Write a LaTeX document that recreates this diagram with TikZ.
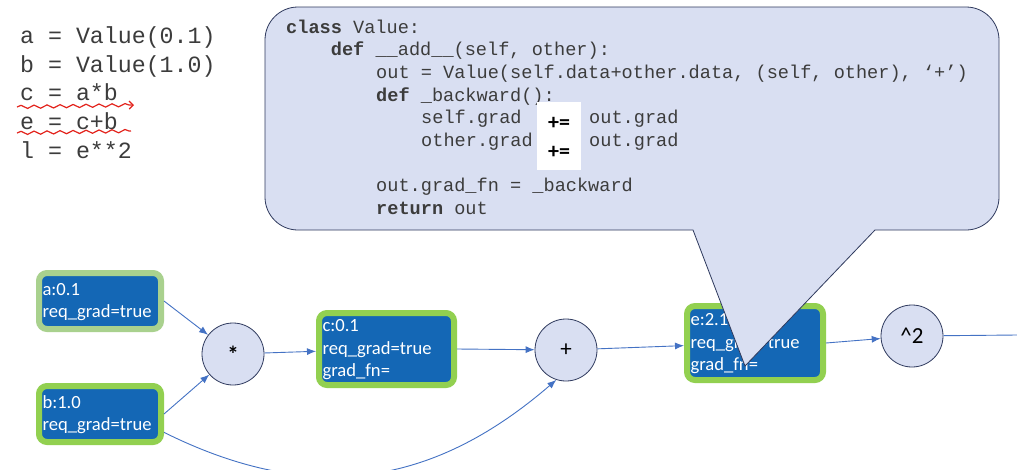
\documentclass[tikz,border=0pt]{standalone}
\usepackage{fontspec}
\setmainfont{Carlito}
\setmonofont{Liberation Mono}
\usetikzlibrary{arrows.meta,decorations.pathmorphing}

\definecolor{valblue}{HTML}{1467B5}
\definecolor{valgreen}{HTML}{92D050}
\definecolor{palegreen}{HTML}{A9D18E}
\definecolor{bubble}{HTML}{D9DFF2}
\definecolor{bubbleedge}{HTML}{2F3A5E}
\definecolor{linkblue}{HTML}{4472C4}
\definecolor{codegray}{HTML}{3C3C3C}
\definecolor{pen}{HTML}{E3231C}

\tikzset{
    valnode/.style={draw=valgreen, line width=6pt, fill=valblue, rounded corners=8pt, text=white, align=left,
        font=\fontsize{18.6}{22.5}\selectfont, inner xsep=3.5pt, inner ysep=0pt},
    opnode/.style={circle, draw=bubbleedge, line width=0.8pt, fill=bubble, minimum size=62pt, inner sep=0pt,
        font=\fontsize{23}{26}\selectfont},
    link/.style={draw=linkblue, line width=0.9pt, -{Latex[length=9pt,width=7pt]}},
    codeline/.style={anchor=base west, inner sep=0pt, text=codegray, font=\ttfamily\fontsize{23.25}{28}\selectfont},
    pyline/.style={anchor=base west, inner sep=0pt, text=codegray, font=\ttfamily\fontsize{18.6}{22}\selectfont},
    pluseq/.style={inner sep=0pt, font=\bfseries\fontsize{22}{24}\selectfont},
    scribble/.style={draw=pen, line width=1.2pt, decorate, decoration={snake, amplitude=1.6pt, segment length=13pt}}
}

\begin{document}
\begin{tikzpicture}[x=1pt, y=-1pt]
            \fill[white] (0,0) rectangle (1017,469);
            \useasboundingbox (0,0) rectangle (1017,469);

            % the script on the left
            \foreach \txt [count=\i] in {a = Value(0.1), b = Value(1.0), c = a*b, e = c+b, l = e**2}
                \node[codeline] (src\i) at (20, 14.8+28.7*\i) {\txt};
            \draw[scribble, -{Straight Barb[length=4pt]}] (17,107) -- (134,105);
            \draw[scribble] (17,133) -- (131,131);

            % graph
            \node[valnode, draw=palegreen, text width=115pt, minimum height=56pt] (a) at (100,301) {\rule{0pt}{14pt}a:0.1\\req\_grad=true};
            \node[valnode, text width=115pt, minimum height=56pt] (b) at (100,414) {\rule{0pt}{14pt}b:1.0\\req\_grad=true};
            \node[opnode] (mul) at (233,354) {\textbf{*}};
            \node[valnode, text width=128pt, minimum height=72pt] (c) at (386.5,349) {\rule{0pt}{14pt}c:0.1\\req\_grad=true\\grad\_fn=};
            \node[opnode] (add) at (566,350) {+};
            \node[valnode, text width=129pt, minimum height=74pt] (e) at (755,343) {\rule{0pt}{14pt}e:2.1\\req\_grad=true\\grad\_fn=};
            \node[opnode] (pow) at (912,336) {\textasciicircum2};
            \coordinate (out) at (1017,335);

            \draw[link] (a.east) -- (mul);
            \draw[link] (b.east) -- (mul);
            \draw[link] (mul) -- (c);
            \draw[link] (c.east) -- (add);
            \draw[link] (b.-16) .. controls (320,510) and (440,480) .. (add.-108);
            \draw[link] (add) -- (e);
            \draw[link] (e.east) -- (pow);
            \draw[draw=linkblue, line width=0.9pt] (pow) -- (out);

            % speech bubble with the code
            \draw[draw=bubbleedge, fill=bubble, line width=0.8pt] (745,366) -- (693,230) [rounded corners=33pt] -- (265,230)
                -- (265,7) -- (999,7) -- (999,230) [sharp corners] -- (875,230) -- cycle;
            \node[pyline] (py1) at (286,33.3) {\textbf{class} Value:};
            \node[pyline] (py2) at (330.7,55.9) {\textbf{def} \_\_add\_\_(self, other):};
            \node[pyline] (py3) at (376,78.5) {out = Value(self.data+other.data, (self, other), ‘+’)};
            \node[pyline] (py4) at (376,101.1) {\textbf{def} \_backward():};
            \node[pyline] (py5) at (421,123.7) {self.grad};
            \node[pyline] (py6) at (421,146.3) {other.grad};
            \node[pyline] (py7) at (589,123.7) {out.grad};
            \node[pyline] (py8) at (589,146.3) {out.grad};
            \node[pyline] (py9) at (376,191.5) {out.grad\_fn = \_backward};
            \node[pyline] (py10) at (376,214.1) {\textbf{return} out};
            \node[fill=white, minimum width=44pt, minimum height=68pt, inner sep=0pt] (mask) at (559,136) {};
            \node[pluseq] (inc1) at (559,123) {+=};
            \node[pluseq] (inc2) at (559,152) {+=};
\end{tikzpicture}
\end{document}
